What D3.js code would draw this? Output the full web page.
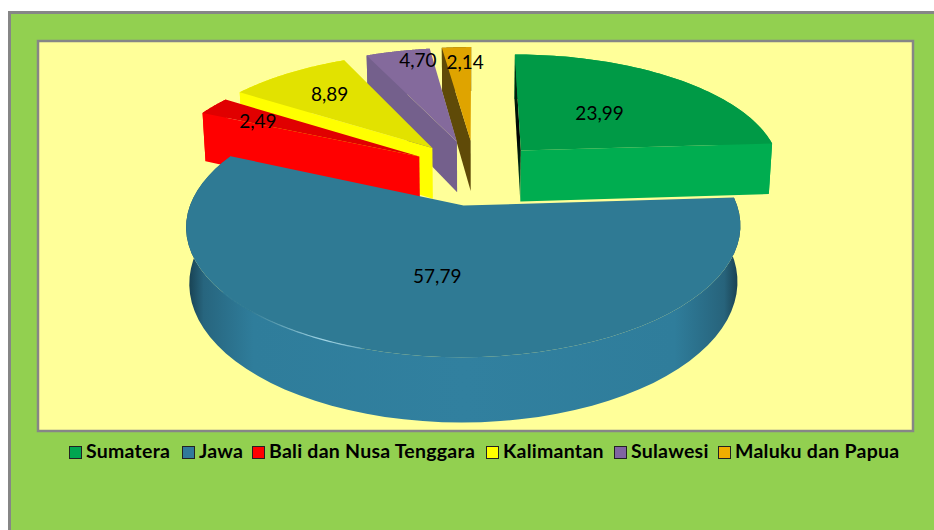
<!DOCTYPE html>
<html><head><meta charset="utf-8">
<style>html,body{margin:0;padding:0;background:#fff}svg{display:block}</style>
<script src="https://d3js.org/d3.v7.min.js"></script></head>
<body><svg id="c" width="934" height="530"></svg>
<script>
const categories=["Sumatera","Jawa","Bali dan Nusa Tenggara","Kalimantan","Sulawesi","Maluku dan Papua"];
const values=[23.99,57.79,2.49,8.89,4.70,2.14];
const topColors=["#009A46","#2F7A94","#E00000","#E2E200","#846A9C","#DFA400"];
const wallColors=["#00AD50","#2F7F9F","#FF0000","#FFFF00","#74608C","#5F4A08"];
const legendColors=["#00A650","#31799B","#FF0000","#FFFF00","#8064A2","#F0AE00"];
const legendX=[69,182,252,486,614,718];
const labelRadius=[.49,.52,.745,.69,.87,.82];
const labelTurn=[0,-1,-3,0,4,2];

const svg=d3.select("#c");
const W=934,H=530;
const px=475,py=172,R=262,A=116.8,K=.1535,DEPTH=52.5,BOTTOM_SHRINK=.989,EXPL_U=.258,EXPL_V=.28;
const explosionU=[1.02,.9,.96,1,1,1];
const explosionV=[.93,1,1,1,1,1];
const rad=d=>d*Math.PI/180;

function project(u,v,lower){
  const w=1+K*v;
  let x=px+R*u/w,y=py-A*v/w;
  if(lower){x=px+(x-px)*BOTTOM_SHRINK;y+=DEPTH/w;}
  return [x,y];
}
const arcs=d3.pie().sort(null).value(d=>d).startAngle(0).endAngle(2*Math.PI)(values);
const line=d3.line().curve(d3.curveLinear);
const pts=(a0,a1,geom,low)=>d3.range(0,61).map(i=>{const a=a0+(a1-a0)*i/60;return project(geom.cu+Math.sin(a),geom.cv+Math.cos(a),low);});
const geomOf=(s,i)=>{const m=(s.startAngle+s.endAngle)/2;return {cu:EXPL_U*explosionU[i]*Math.sin(m),cv:EXPL_V*explosionV[i]*Math.cos(m)};};

const defs=svg.append("defs");
const g1=defs.append("linearGradient").attr("id","jawaSide").attr("gradientUnits","userSpaceOnUse").attr("x1",187).attr("x2",741).attr("y1",0).attr("y2",0);
[[0,"#173e4e"],[.03,"#27657e"],[.12,"#2f7d9b"],[.5,"#31809f"],[.88,"#2f7d9b"],[.97,"#27637b"],[1,"#173a48"]].forEach(s=>g1.append("stop").attr("offset",s[0]).attr("stop-color",s[1]));
const g2=defs.append("linearGradient").attr("id","sumEdge").attr("gradientUnits","userSpaceOnUse").attr("x1",0).attr("x2",0).attr("y1",53).attr("y2",202);
[[0,"#00401c"],[.55,"#000"],[1,"#00602c"]].forEach(s=>g2.append("stop").attr("offset",s[0]).attr("stop-color",s[1]));
const g3=defs.append("linearGradient").attr("id","shine").attr("gradientUnits","userSpaceOnUse").attr("x1",250).attr("x2",400).attr("y1",0).attr("y2",0);
[[0,"#2f7a94"],[.5,"#9fd4e6"],[1,"#2f7a94"]].forEach(s=>g3.append("stop").attr("offset",s[0]).attr("stop-color",s[1]));

svg.append("rect").attr("x",9.5).attr("y",12.5).attr("width",W).attr("height",H).attr("fill","#92D050").attr("stroke","#868686").attr("stroke-width",3);
svg.append("rect").attr("x",38).attr("y",41).attr("width",875).attr("height",390).attr("fill","#FFFF99").attr("stroke","#868686").attr("stroke-width",2.5);

const order=[5,4,3,2,0,1];
const chart=svg.append("g");
order.forEach(i=>{
  const s=arcs[i],g=geomOf(s,i),a0=s.startAngle,a1=s.endAngle,gEl=chart.append("g");
  const apexTop=project(g.cu,g.cv,false),apexLow=project(g.cu,g.cv,true);
  const rimAt=(a,l)=>project(g.cu+Math.sin(a),g.cv+Math.cos(a),l);
  gEl.append("path").attr("d",line(pts(a0,a1,g,false).concat(pts(a0,a1,g,true).reverse()))+"Z")
    .attr("fill",i===1?"url(#jawaSide)":wallColors[i]);
  if(i===0){
    gEl.append("path").attr("d",line([rimAt(a0,false),apexTop,apexLow,rimAt(a0,true)])+"Z").attr("fill","url(#sumEdge)");
    gEl.append("path").attr("d",line([apexTop,rimAt(a1,false),rimAt(a1,true),apexLow])+"Z").attr("fill",wallColors[i]);
  } else if(i!==1){
    gEl.append("path").attr("d",line([apexTop,rimAt(a0,false),rimAt(a0,true),apexLow])+"Z").attr("fill",wallColors[i]);
  }
  gEl.append("path").attr("d",line([apexTop].concat(pts(a0,a1,g,false)))+"Z").attr("fill",topColors[i]);
  if(i===1){
    gEl.append("path").attr("d",line(pts(rad(198),rad(232),g,false))).attr("fill","none").attr("stroke","url(#shine)").attr("stroke-width",1.2);
  }
});

const fmt=d3.formatLocale({decimal:",",thousands:".",grouping:[3],currency:["",""]}).format(".2f");
svg.append("g").selectAll("text").data(arcs).join("text")
  .attr("transform",(s,i)=>{const g=geomOf(s,i),m=(s.startAngle+s.endAngle)/2+rad(labelTurn[i]),r=labelRadius[i];
    const p=project(g.cu+r*Math.sin(m),g.cv+r*Math.cos(m),false);return `translate(${p[0]},${p[1]})`;})
  .attr("text-anchor","middle").attr("dy","0.35em").attr("font-family","Lato").attr("font-size",19).attr("fill","#000")
  .text(s=>fmt(s.data));

const lg=svg.append("g").selectAll("g").data(categories).join("g").attr("transform",(d,i)=>`translate(${legendX[i]},446)`);
lg.append("rect").attr("x",.5).attr("y",.5).attr("width",12).attr("height",12).attr("fill",(d,i)=>legendColors[i]).attr("stroke","#222").attr("stroke-width",1);
lg.append("text").attr("x",17).attr("y",12).attr("font-family","Lato").attr("font-weight",700).attr("font-size",19.5).attr("letter-spacing",.25).attr("fill","#000").text(d=>d);
</script></body></html>
